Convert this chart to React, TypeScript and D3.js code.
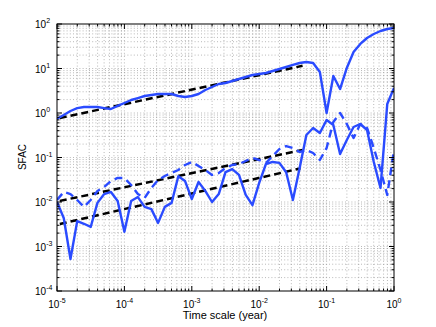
import * as d3 from "d3";

// time scale exponents (log10 year), 0.1 decade apart
const timeExp = [
  -5.0, -4.9, -4.8, -4.7, -4.6, -4.5, -4.4, -4.3, -4.2, -4.1,
  -4.0, -3.9, -3.8, -3.7, -3.6, -3.5, -3.4, -3.3, -3.2, -3.1,
  -3.0, -2.9, -2.8, -2.7, -2.6, -2.5, -2.4, -2.3, -2.2, -2.1,
  -2.0, -1.9, -1.8, -1.7, -1.6, -1.5, -1.4, -1.3, -1.2, -1.1,
  -1.0, -0.9, -0.8, -0.7, -0.6, -0.5, -0.4, -0.3, -0.2, -0.1, 0.0,
];

// upper smooth curve
const sfacUpper = [
  0.74, 0.9, 1.11, 1.29, 1.36, 1.36, 1.36, 1.29, 1.23, 1.44,
  1.68, 1.96, 2.17, 2.41, 2.54, 2.67, 2.67, 2.67, 2.41, 2.29,
  2.41, 2.67, 3.29, 3.84, 4.48, 4.72, 5.24, 5.81, 6.44, 7.14,
  7.52, 7.92, 8.79, 9.75, 10.8, 12.0, 13.3, 14.0, 13.3, 8.34,
  1.0, 6.78, 3.46, 10.3, 23.5, 35.6, 48.4, 59.6, 69.6, 77.2, 81.3,
];

// lower jagged curve (solid)
const sfacLower = [
  0.01, 0.00437, 0.000525, 0.00372, 0.00324, 0.00275, 0.00955, 0.0151, 0.0168, 0.0105,
  0.00214, 0.0105, 0.0129, 0.00776, 0.00692, 0.00339, 0.00776, 0.00955, 0.038, 0.0295,
  0.0117, 0.0282, 0.0178, 0.01, 0.0151, 0.0468, 0.055, 0.0407, 0.0145, 0.0085,
  0.0269, 0.0714, 0.0794, 0.0759, 0.0468, 0.0111, 0.058, 0.321, 0.46, 0.356,
  0.697, 0.537, 0.12, 0.247, 0.484, 0.566, 0.415, 0.0794, 0.0207, 1.59, 3.65,
];

// lower curve (dashed)
const sfacDashed = [
  0.0111, 0.0168, 0.0151, 0.0111, 0.00776, 0.0111, 0.0177, 0.0217, 0.0296, 0.0347,
  0.0347, 0.0241, 0.0151, 0.0123, 0.0207, 0.0312, 0.0384, 0.0449, 0.0524, 0.0678,
  0.0794, 0.0645, 0.0524, 0.0405, 0.0449, 0.058, 0.0678, 0.0714, 0.0834, 0.0975,
  0.0879, 0.0752, 0.108, 0.155, 0.181, 0.163, 0.133, 0.148, 0.126, 0.0879,
  0.163, 0.628, 1.0, 0.566, 0.274, 0.566, 0.46, 0.163, 0.0524, 0.0144, 0.148,
];

// straight power-law fits: [time, value] end points
const fitUpper: [number, number][] = [[1.1e-5, 0.77], [0.044, 11.5]];
const fitMid: [number, number][] = [[1.1e-5, 0.0106], [0.044, 0.148]];
const fitLow: [number, number][] = [[1.1e-5, 0.0032], [0.041, 0.057]];

const xTickExp = [-5, -4, -3, -2, -1, 0];
const yTickExp = [-4, -3, -2, -1, 0, 1, 2];

const BLUE = "#2a4bff";

function minorTicks(lo: number, hi: number) {
  const out: number[] = [];
  for (let e = lo; e < hi; e++) {
    for (let m = 2; m <= 9; m++) out.push(m * Math.pow(10, e));
  }
  return out;
}

function Pow10({ x, y, exp, anchor }: { x: number; y: number; exp: number; anchor: string }) {
  return (
    <text x={x} y={y} textAnchor={anchor} fontSize={10} fill="#000">
      10
      <tspan dy={-5} fontSize={7}>{exp < 0 ? "-" + Math.abs(exp) : String(exp)}</tspan>
    </text>
  );
}

export default function App() {
  const width = 436;
  const height = 327;
  const left = 57, right = 394, top = 24, bottom = 291;

  const x = d3.scaleLog().domain([1e-5, 1]).range([left, right]);
  const y = d3.scaleLog().domain([1e-4, 100]).range([bottom, top]);
  const line = d3.line<[number, number]>().x((d) => x(d[0])).y((d) => y(d[1]));

  const t = timeExp.map((e) => Math.pow(10, e));
  const pts = (vals: number[]) => t.map((ti, i) => [ti, vals[i]] as [number, number]);

  const xMajor = xTickExp.map((e) => Math.pow(10, e));
  const yMajor = yTickExp.map((e) => Math.pow(10, e));
  const xMinor = minorTicks(-5, 0);
  const yMinor = minorTicks(-4, 2);

  return (
    <svg
      width={width}
      height={height}
      style={{ position: "absolute", left: 0, top: 0, background: "#fff" }}
      fontFamily="'Liberation Sans', Arial, sans-serif"
    >
      <rect width={width} height={height} fill="#fff" />
      {/* grid */}
      <g stroke="#8a8a8a" strokeWidth={0.6} strokeDasharray="1 2.2">
        {[...xMajor, ...xMinor]
          .filter((v) => v > 1e-5 && v < 1)
          .map((v, i) => (
            <line key={"gx" + i} x1={x(v)} x2={x(v)} y1={top} y2={bottom} />
          ))}
        {[...yMajor, ...yMinor]
          .filter((v) => v > 1e-4 && v < 100)
          .map((v, i) => (
            <line key={"gy" + i} x1={left} x2={right} y1={y(v)} y2={y(v)} />
          ))}
      </g>

      <defs>
        <clipPath id="plot">
          <rect x={left} y={top} width={right - left} height={bottom - top} />
        </clipPath>
      </defs>

      <g clipPath="url(#plot)" fill="none" strokeLinejoin="round">
        <path d={line(fitUpper) || ""} stroke="#000" strokeWidth={2.5} strokeDasharray="7 4" />
        <path d={line(fitMid) || ""} stroke="#000" strokeWidth={2.5} strokeDasharray="7 4" />
        <path d={line(fitLow) || ""} stroke="#000" strokeWidth={2.5} strokeDasharray="7 4" />
        <path d={line(pts(sfacDashed)) || ""} stroke={BLUE} strokeWidth={2.4} strokeDasharray="8 5" />
        <path d={line(pts(sfacLower)) || ""} stroke={BLUE} strokeWidth={2.4} />
        <path d={line(pts(sfacUpper)) || ""} stroke={BLUE} strokeWidth={2.4} />
      </g>

      {/* ticks on all four sides */}
      <g stroke="#000" strokeWidth={1}>
        {xMajor.map((v, i) => (
          <g key={"xt" + i}>
            <line x1={x(v)} x2={x(v)} y1={bottom} y2={bottom - 5} />
            <line x1={x(v)} x2={x(v)} y1={top} y2={top + 5} />
          </g>
        ))}
        {xMinor.map((v, i) => (
          <g key={"xm" + i}>
            <line x1={x(v)} x2={x(v)} y1={bottom} y2={bottom - 2.5} />
            <line x1={x(v)} x2={x(v)} y1={top} y2={top + 2.5} />
          </g>
        ))}
        {yMajor.map((v, i) => (
          <g key={"yt" + i}>
            <line x1={left} x2={left + 5} y1={y(v)} y2={y(v)} />
            <line x1={right} x2={right - 5} y1={y(v)} y2={y(v)} />
          </g>
        ))}
        {yMinor.map((v, i) => (
          <g key={"ym" + i}>
            <line x1={left} x2={left + 2.5} y1={y(v)} y2={y(v)} />
            <line x1={right} x2={right - 2.5} y1={y(v)} y2={y(v)} />
          </g>
        ))}
      </g>
      <rect x={left} y={top} width={right - left} height={bottom - top} fill="none" stroke="#000" strokeWidth={1} />

      {/* tick labels */}
      {xTickExp.map((e) => (
        <Pow10 key={"xl" + e} x={x(Math.pow(10, e))} y={308} exp={e} anchor="middle" />
      ))}
      {yTickExp.map((e) => (
        <Pow10 key={"yl" + e} x={35} y={y(Math.pow(10, e)) + 4} exp={e} anchor="start" />
      ))}

      <text x={225} y={319} textAnchor="middle" fontSize={11}>Time scale (year)</text>
      <text transform="translate(26,157) rotate(-90)" textAnchor="middle" fontSize={10}>SFAC</text>
    </svg>
  );
}
